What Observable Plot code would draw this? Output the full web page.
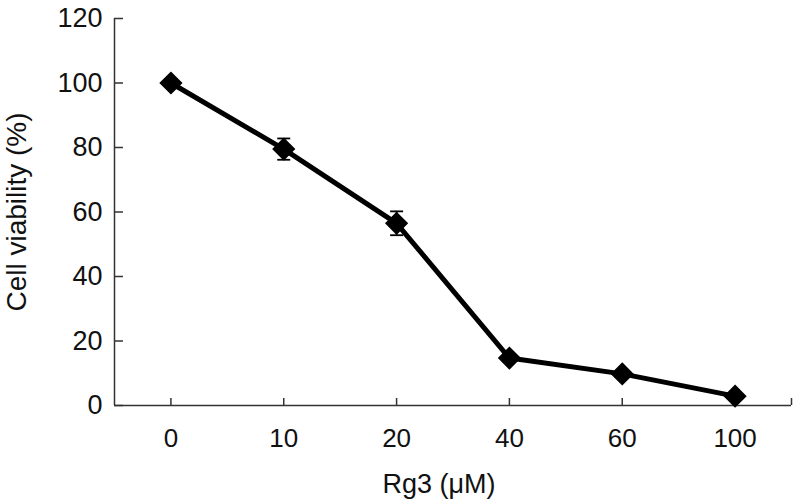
<!DOCTYPE html>
<html>
<head>
<meta charset="utf-8">
<script src="https://cdn.jsdelivr.net/npm/d3@7"></script>
<script src="https://cdn.jsdelivr.net/npm/@observablehq/plot@0.6"></script>
<style>
  html, body { margin: 0; padding: 0; background: #fff; }
  #chart { width: 797px; height: 504px; }
</style>
</head>
<body>
<div id="chart"></div>
<script>
// Data
const categories = ["0", "10", "20", "40", "60", "100"];   // Rg3 concentration (µM)
const viability = [100, 79.5, 56.5, 14.7, 9.8, 2.9];        // Cell viability (%)
const errors = [1.0, 3.3, 3.7, 1.2, 1.0, 0.8];               // SD
const yTicks = [0, 20, 40, 60, 80, 100, 120];
const xLabel = "Rg3 (μM)";
const yLabel = "Cell viability (%)";

const data = categories.map((c, i) => ({ i, c, v: viability[i], e: errors[i] }));
const xEnd = categories.length - 0.5;

const capSymbol = {
  draw(context, size) {
    const w = Math.sqrt(size / Math.PI);
    context.moveTo(-w, 0);
    context.lineTo(w, 0);
  }
};

const font = "'Liberation Sans', Arial, Helvetica, sans-serif";

const chart = Plot.plot({
  width: 797,
  height: 504,
  marginLeft: 114,
  marginRight: 6,
  marginTop: 18,
  marginBottom: 99,
  style: { fontFamily: font, fontSize: "26px", color: "#111", background: "#fff" },
  x: { type: "linear", domain: [-0.5, xEnd] },
  y: { domain: [0, 120] },
  marks: [
    // axis lines
    Plot.ruleX([-0.5], { y1: 0, y2: 120, stroke: "#333", strokeWidth: 1.5 }),
    Plot.ruleY([0], { x1: -0.5, x2: xEnd, stroke: "#333", strokeWidth: 1.5 }),
    // inward ticks
    Plot.axisY({ ticks: yTicks, tickSize: -9, text: null, label: null, stroke: "#333", strokeWidth: 1.5 }),
    Plot.axisX({ ticks: [...categories.map((_, i) => i), xEnd], tickSize: -7, text: null, label: null, stroke: "#333", strokeWidth: 1.5 }),
    // tick labels
    Plot.axisY({ ticks: yTicks, tickSize: 0, tickPadding: 12, label: null, fontSize: 27, fill: "#111" }),
    Plot.axisX({ ticks: categories.map((_, i) => i), tickSize: 0, tickPadding: 23, tickFormat: i => categories[i], label: null, fontSize: 26, fill: "#111" }),
    // error bars
    Plot.ruleX(data, { x: "i", y1: d => d.v - d.e, y2: d => d.v + d.e, stroke: "#000", strokeWidth: 1.8 }),
    Plot.dot(data, { x: "i", y: d => d.v - d.e, symbol: capSymbol, r: 6.5, stroke: "#000", strokeWidth: 1.8 }),
    Plot.dot(data, { x: "i", y: d => d.v + d.e, symbol: capSymbol, r: 6.5, stroke: "#000", strokeWidth: 1.8 }),
    // line + markers
    Plot.line(data, { x: "i", y: "v", stroke: "#000", strokeWidth: 5 }),
    Plot.dot(data, { x: "i", y: "v", symbol: "diamond2", r: 9.5, fill: "#000", stroke: "#000", strokeWidth: 1.5 }),
    // axis titles
    Plot.text([yLabel], { frameAnchor: "left", dx: -97, rotate: -90, textAnchor: "middle", lineAnchor: "middle", fontSize: 28, fill: "#111" }),
    Plot.text([xLabel], { frameAnchor: "bottom", dx: -14, dy: 79, textAnchor: "middle", lineAnchor: "middle", fontSize: 27, fill: "#111" })
  ]
});

document.getElementById("chart").appendChild(chart);
</script>
</body>
</html>
